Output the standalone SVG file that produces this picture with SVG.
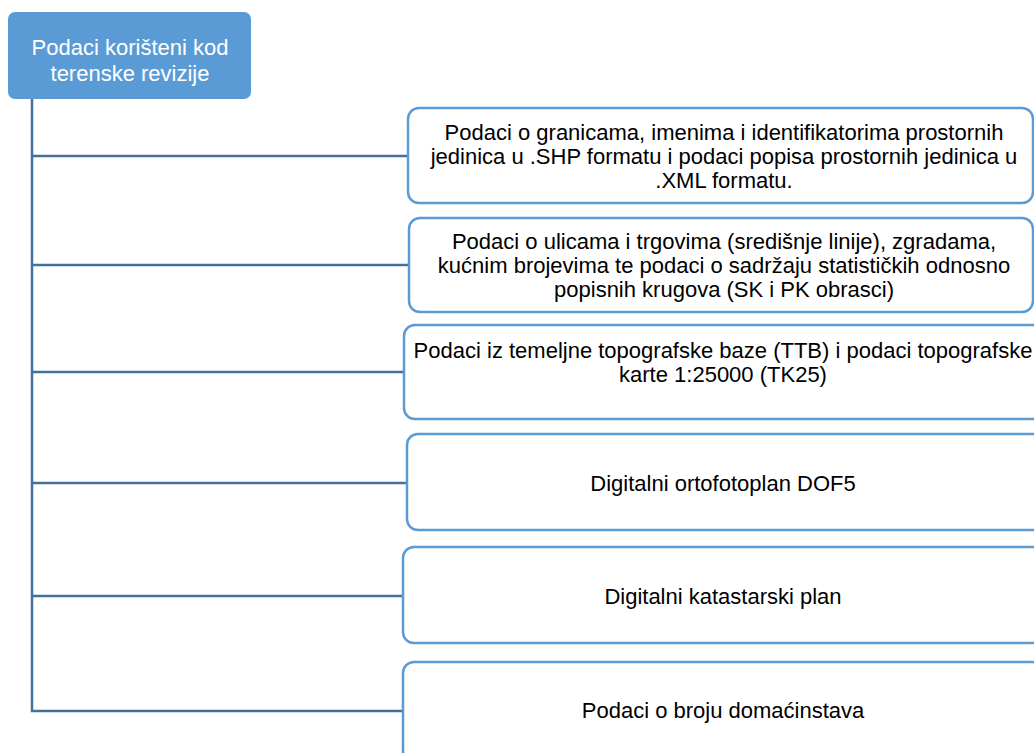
<svg xmlns="http://www.w3.org/2000/svg" width="1034" height="753" viewBox="0 0 1034 753">
<style>
.box{fill:#ffffff;stroke:#5B9BD5;stroke-width:2.5}
.t{font-family:"Liberation Sans",Arial,sans-serif;font-size:22px;fill:#000000;text-anchor:middle}
.w{font-family:"Liberation Sans",Arial,sans-serif;font-size:22px;fill:#ffffff;text-anchor:middle}
.c{fill:none;stroke:#41719C;stroke-width:2.5}
</style>
<rect width="1034" height="753" fill="#ffffff"/>
<g id="connectors">
<path class="c" d="M32,99 V711 H404"/>
<path class="c" d="M32,156 H408"/>
<path class="c" d="M32,265 H409"/>
<path class="c" d="M32,372 H404"/>
<path class="c" d="M32,483 H407"/>
<path class="c" d="M32,596 H403"/>
</g>
<g id="root">
<rect x="8" y="12" width="243" height="87" rx="7" fill="#5B9BD5"/>
<text class="w" x="130" y="55">Podaci korišteni kod</text>
<text class="w" x="130" y="81">terenske revizije</text>
</g>
<g id="n1">
<rect class="box" x="408" y="108" width="625" height="95" rx="11"/>
<text class="t" x="724" y="140">Podaci o granicama, imenima i identifikatorima prostornih</text>
<text class="t" x="724" y="164">jedinica u .SHP formatu i podaci popisa prostornih jedinica u</text>
<text class="t" x="724" y="188">.XML formatu.</text>
</g>
<g id="n2">
<rect class="box" x="409" y="218" width="624" height="94" rx="11"/>
<text class="t" x="724" y="249">Podaci o ulicama i trgovima (središnje linije), zgradama,</text>
<text class="t" x="724" y="273">kućnim brojevima te podaci o sadržaju statističkih odnosno</text>
<text class="t" x="724" y="297">popisnih krugova (SK i PK obrasci)</text>
</g>
<g id="n3">
<rect class="box" x="404" y="325" width="640" height="94" rx="11"/>
<text class="t" x="723" y="358">Podaci iz temeljne topografske baze (TTB) i podaci topografske</text>
<text class="t" x="723" y="382">karte 1:25000 (TK25)</text>
</g>
<g id="n4">
<rect class="box" x="407" y="434" width="640" height="96" rx="11"/>
<text class="t" x="723" y="491">Digitalni ortofotoplan DOF5</text>
</g>
<g id="n5">
<rect class="box" x="403" y="547" width="640" height="96" rx="11"/>
<text class="t" x="723" y="604">Digitalni katastarski plan</text>
</g>
<g id="n6">
<rect class="box" x="403" y="662" width="640" height="100" rx="11"/>
<text class="t" x="723" y="718">Podaci o broju domaćinstava</text>
</g>
</svg>
